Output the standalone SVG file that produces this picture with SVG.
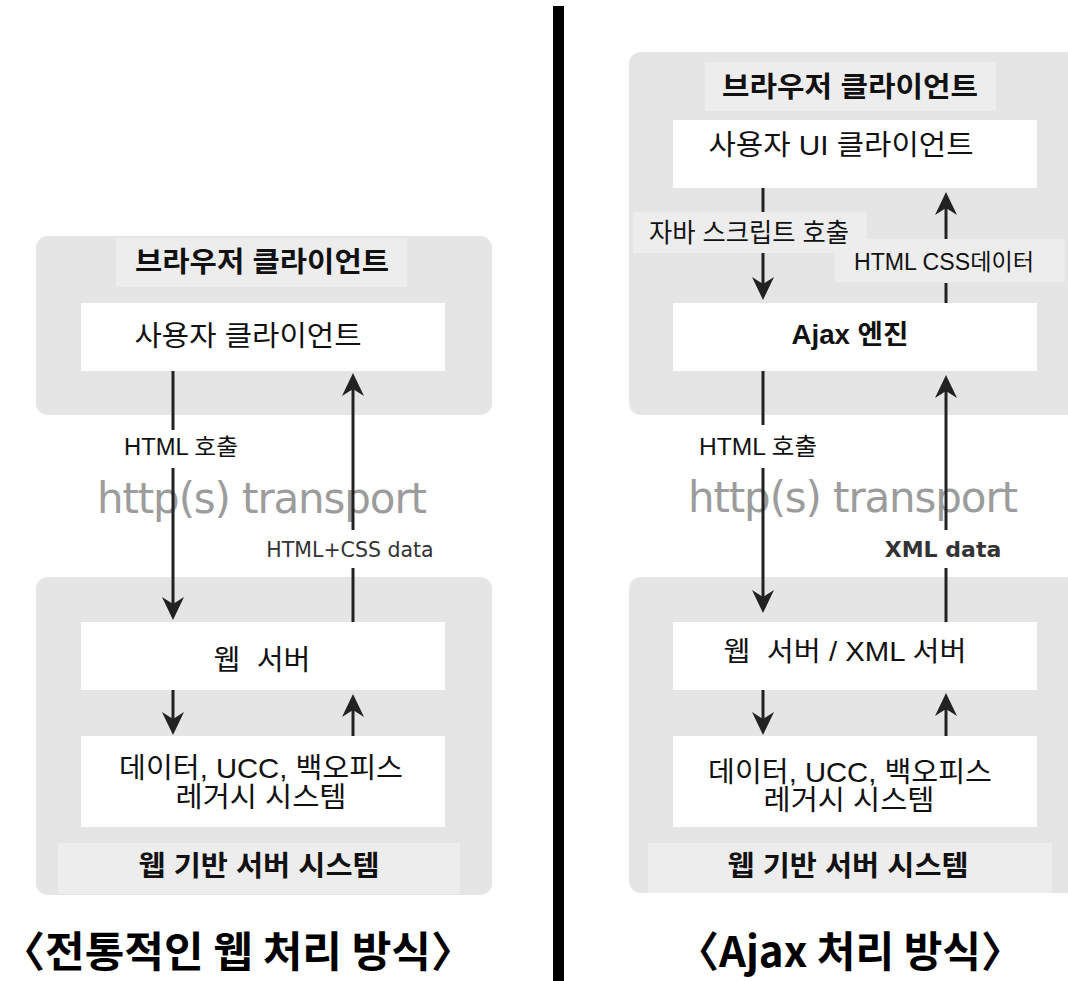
<svg xmlns="http://www.w3.org/2000/svg" width="1068" height="981" viewBox="0 0 1068 981">
<style>
.panel{fill:#e5e5e5}
.tbg{fill:#ededed}
.box{fill:#ffffff}
.kr{font-family:"Liberation Sans","Noto Sans CJK KR",sans-serif;fill:#111;text-anchor:middle}
.b{font-weight:bold}
.ver{font-family:"DejaVu Sans","Noto Sans CJK KR",sans-serif;fill:#333;text-anchor:middle}
.tr{font-family:"DejaVu Sans",sans-serif;fill:#9c9c9c;font-size:42px;text-anchor:middle}
.ln{stroke:#222;stroke-width:3;fill:none}
.arr{stroke:#222;stroke-width:3;fill:none;marker-end:url(#ah)}
.ttl{font-family:"Noto Sans CJK KR",sans-serif;fill:#000;font-weight:bold;text-anchor:middle}
</style>
<defs>
<marker id="ah" markerUnits="userSpaceOnUse" viewBox="-14 -12 26 24" refX="0" refY="0" markerWidth="26" markerHeight="24" orient="auto">
<path d="M10,0 L-13,-11 L-6,0 L-13,11 Z" fill="#222"/>
</marker>
</defs>
<rect id="divider" x="553" y="6" width="11" height="975" fill="#000"/>

<!-- LEFT PANEL -->
<g id="left-browser">
<rect class="panel" x="36" y="236" width="456" height="179" rx="12"/>
<rect class="tbg" x="116" y="238" width="291" height="49"/>
<text class="kr b" x="262" y="272" font-size="28" textLength="254" lengthAdjust="spacingAndGlyphs">브라우저 클라이언트</text>
</g>
<g id="left-user-client">
<rect class="box" x="81" y="303" width="364" height="68"/>
<text class="kr" x="248" y="346" font-size="28" textLength="227" lengthAdjust="spacingAndGlyphs">사용자 클라이언트</text>
</g>
<g id="left-server-system">
<rect class="panel" x="36" y="577" width="456" height="318" rx="12"/>
<rect class="tbg" x="58" y="843" width="402" height="51"/>
<text class="kr b" x="259" y="876" font-size="28" textLength="241" lengthAdjust="spacingAndGlyphs">웹 기반 서버 시스템</text>
</g>
<g id="left-web-server">
<rect class="box" x="81" y="622" width="364" height="68"/>
<text class="kr" x="262" y="670" font-size="28" textLength="97" lengthAdjust="spacingAndGlyphs" xml:space="preserve">웹  서버</text>
</g>
<g id="left-data">
<rect class="box" x="81" y="736" width="364" height="91"/>
<text class="kr" x="261" y="778" font-size="28" textLength="284" lengthAdjust="spacingAndGlyphs">데이터, UCC, 백오피스</text>
<text class="kr" x="261" y="807" font-size="28" textLength="171" lengthAdjust="spacingAndGlyphs">레거시 시스템</text>
</g>
<text id="left-transport" class="tr" x="262" y="513" textLength="330">http(s) transport</text>
<text id="left-title" class="ttl" x="238" y="967" font-size="42" textLength="472" lengthAdjust="spacingAndGlyphs">〈전통적인 웹 처리 방식〉</text>

<!-- RIGHT PANEL -->
<g id="right-browser">
<rect class="panel" x="629" y="52" width="460" height="363" rx="12"/>
<rect class="tbg" x="705" y="62" width="291" height="49"/>
<text class="kr b" x="850" y="97" font-size="28" textLength="256" lengthAdjust="spacingAndGlyphs">브라우저 클라이언트</text>
</g>
<g id="right-ui-client">
<rect class="box" x="673" y="120" width="364" height="68"/>
<text class="kr" x="841" y="155" font-size="28" textLength="265" lengthAdjust="spacingAndGlyphs">사용자 UI 클라이언트</text>
</g>
<g id="right-ajax">
<rect class="box" x="673" y="303" width="364" height="68"/>
<text class="kr b" x="850" y="344" font-size="27" textLength="117" lengthAdjust="spacingAndGlyphs">Ajax 엔진</text>
</g>
<g id="right-server-system">
<rect class="panel" x="629" y="577" width="460" height="316" rx="12"/>
<rect class="tbg" x="648" y="843" width="404" height="50"/>
<text class="kr b" x="848" y="876" font-size="28" textLength="241" lengthAdjust="spacingAndGlyphs">웹 기반 서버 시스템</text>
</g>
<g id="right-web-server">
<rect class="box" x="673" y="622" width="364" height="68"/>
<text class="kr" x="845" y="661" font-size="27" textLength="243" lengthAdjust="spacingAndGlyphs" xml:space="preserve">웹  서버 / XML 서버</text>
</g>
<g id="right-data">
<rect class="box" x="673" y="736" width="364" height="91"/>
<text class="kr" x="850" y="782" font-size="28" textLength="284" lengthAdjust="spacingAndGlyphs">데이터, UCC, 백오피스</text>
<text class="kr" x="849" y="810" font-size="28" textLength="171" lengthAdjust="spacingAndGlyphs">레거시 시스템</text>
</g>
<text id="right-transport" class="tr" x="853" y="512" textLength="330">http(s) transport</text>
<text id="right-title" class="ttl" x="850" y="967" font-size="42">〈Ajax 처리 방식〉</text>

<!-- CONNECTORS -->
<g id="connectors">
<!-- left -->
<line class="ln" x1="173" y1="371" x2="173" y2="430"/>
<line class="arr" x1="173" y1="468" x2="173" y2="610"/>
<text class="kr" x="181" y="455" font-size="23" textLength="114" lengthAdjust="spacingAndGlyphs">HTML 호출</text>
<line class="ln" x1="353" y1="622" x2="353" y2="568"/>
<line class="arr" x1="353" y1="530" x2="353" y2="383"/>
<text class="ver" x="350" y="557" font-size="20.5">HTML+CSS data</text>
<line class="arr" x1="173" y1="690" x2="173" y2="725"/>
<line class="arr" x1="353" y1="736" x2="353" y2="704"/>

<!-- right -->
<line class="ln" x1="946" y1="303" x2="946" y2="283"/>
<rect class="tbg" x="835" y="239" width="230" height="43"/>
<text class="kr" x="944" y="270" font-size="23" textLength="180" lengthAdjust="spacingAndGlyphs">HTML CSS데이터</text>
<line class="arr" x1="946" y1="239" x2="946" y2="202"/>
<line class="ln" x1="763" y1="188" x2="763" y2="212"/>
<rect class="tbg" x="633" y="212" width="234" height="41"/>
<text class="kr" x="749" y="242" font-size="26" textLength="200" lengthAdjust="spacingAndGlyphs">자바 스크립트 호출</text>
<line class="arr" x1="763" y1="253" x2="763" y2="290"/>

<line class="ln" x1="763" y1="371" x2="763" y2="425"/>
<text class="kr" x="758" y="455" font-size="24" textLength="118" lengthAdjust="spacingAndGlyphs">HTML 호출</text>
<line class="arr" x1="763" y1="468" x2="763" y2="603"/>
<line class="ln" x1="946" y1="622" x2="946" y2="568"/>
<text class="ver b" x="943" y="557" font-size="22">XML data</text>
<line class="arr" x1="946" y1="530" x2="946" y2="385"/>
<line class="arr" x1="763" y1="690" x2="763" y2="725"/>
<line class="arr" x1="946" y1="736" x2="946" y2="703"/>
</g>
</svg>
